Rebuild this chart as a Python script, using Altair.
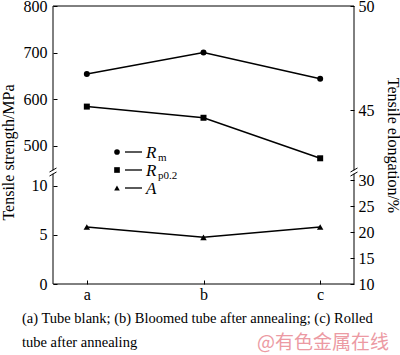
import altair as alt
import pandas as pd

# ---------------- data ----------------
categories = ["a", "b", "c"]
rm_values = [654, 700, 644]          # Rm, MPa
rp_values = [584, 560, 473]          # Rp0.2, MPa
elong_values = [21, 19, 21]          # A, %

left_ticks = [0, 5, 10, 500, 600, 700, 800]
right_ticks = [10, 15, 20, 25, 30, 45, 50]

legend_main = ["R", "R", "A"]
legend_sub = ["m", "p0.2", ""]
legend_shapes = ["circle", "square", "triangle-up"]

caption_lines = ["(a) Tube blank; (b) Bloomed tube after annealing; (c) Rolled",
                 "tube after annealing"]
watermark = "@有色金属在线"

# ---------------- layout ----------------
W, H = 301, 278
TOP = 6
FONT = "Liberation Serif"
one = pd.DataFrame({"k": [0]})

strength_df = pd.DataFrame({
    "category": categories * 2,
    "series": ["Rm"] * 3 + ["Rp0.2"] * 3,
    "value": rm_values + rp_values,
})
elong_df = pd.DataFrame({"category": categories, "series": ["A"] * 3, "value": elong_values})

x_enc = alt.X(
    "category:N",
    sort=categories,
    scale=alt.Scale(type="point", domain=categories, padding=0.29),
    axis=alt.Axis(title=None, offset=-4, domain=False, tickSize=4, tickColor="black",
                  tickWidth=1, labelPadding=2, labelFont=FONT, labelFontSize=16,
                  labelColor="black", labelAngle=0, grid=False),
)

left_scale = alt.Scale(type="linear", domain=[0, 11.4, 450, 800],
                       range=[H, 166, 163, 0], nice=False, zero=False)
right_scale = alt.Scale(type="linear", domain=[10, 31.6, 42.2, 50],
                        range=[H, 166, 163, 0], nice=False, zero=False)

left_axis = alt.Axis(values=left_ticks, title="Tensile strength/MPa", orient="left",
                     offset=-4, domain=False, tickSize=4, tickColor="black", grid=False,
                     labelPadding=6, labelFont=FONT, labelFontSize=16, labelColor="black",
                     titleFont=FONT, titleFontSize=16, titleFontWeight="normal",
                     titleColor="black", titlePadding=7, titleY=146)
right_axis = alt.Axis(values=right_ticks, title="Tensile elongation/%", orient="right",
                      offset=-4, domain=False, tickSize=4, tickColor="black", grid=False,
                      labelPadding=4, labelFont=FONT, labelFontSize=16, labelColor="black",
                      titleFont=FONT, titleFontSize=16, titleFontWeight="normal",
                      titleColor="black", titlePadding=10)

y_left = alt.Y("value:Q", scale=left_scale, axis=left_axis)
y_right = alt.Y("value:Q", scale=right_scale, axis=right_axis)

left_lines = alt.Chart(strength_df).mark_line(color="black", strokeWidth=1.5).encode(
    x=x_enc, y=y_left, detail="series:N")
left_points = alt.Chart(strength_df).mark_point(filled=True, color="black", opacity=1).encode(
    x=x_enc, y=y_left,
    shape=alt.Shape("series:N", scale=alt.Scale(domain=["Rm", "Rp0.2"], range=["circle", "square"]),
                    legend=None),
    size=alt.value(36))
left = alt.layer(left_lines, left_points)

right_lines = alt.Chart(elong_df).mark_line(color="black", strokeWidth=1.5).encode(
    x=x_enc, y=y_right)
right_points = alt.Chart(elong_df).mark_point(filled=True, color="black", opacity=1).encode(
    x=x_enc, y=y_right, shape=alt.value("triangle-up"), size=alt.value(42))
right = alt.layer(right_lines, right_points)

decor = []
# frame
decor.append(alt.Chart(one).mark_rect(fill=None, stroke="black", strokeWidth=1).encode(
    x=alt.value(0), x2=alt.value(W), y=alt.value(0), y2=alt.value(H)))
# axis breaks
for bx in [0, W]:
    decor.append(alt.Chart(one).mark_rect(fill="white", stroke=None).encode(
        x=alt.value(bx - 1.5), x2=alt.value(bx + 1.5), y=alt.value(164.3), y2=alt.value(167.7)))
    for dy in [0, 4]:
        decor.append(alt.Chart(one).mark_rule(color="black", strokeWidth=1).encode(
            x=alt.value(bx - 3.5), x2=alt.value(bx + 3.5),
            y=alt.value(166 + dy), y2=alt.value(162 + dy)))
# legend
for i, (m, s, shp) in enumerate(zip(legend_main, legend_sub, legend_shapes)):
    yy = 146 + 18 * i
    decor.append(alt.Chart(one).mark_point(filled=True, color="black", opacity=1).encode(
        x=alt.value(64), y=alt.value(yy), shape=alt.value(shp), size=alt.value(32)))
    decor.append(alt.Chart(one).mark_rule(color="black", strokeWidth=1.3).encode(
        x=alt.value(72), x2=alt.value(89), y=alt.value(yy)))
    decor.append(alt.Chart(one).mark_text(font=FONT, fontSize=17, fontStyle="italic",
                                          color="black", align="left", baseline="alphabetic").encode(
        x=alt.value(93), y=alt.value(yy + 6), text=alt.value(m)))
    if s:
        decor.append(alt.Chart(one).mark_text(font=FONT, fontSize=11, color="black",
                                              align="left", baseline="alphabetic").encode(
            x=alt.value(105), y=alt.value(yy + 9), text=alt.value(s)))
# caption
for j, line in enumerate(caption_lines):
    decor.append(alt.Chart(one).mark_text(font=FONT, fontSize=14.5, color="black",
                                          align="left", baseline="middle").encode(
        x=alt.value(-31), y=alt.value(313 + 24 * j), text=alt.value(line)))
decor.append(alt.Chart(one).mark_text(font="Noto Sans CJK SC", fontSize=19, color="#ec9aa3",
                                      align="left", baseline="middle").encode(
    x=alt.value(204), y=alt.value(337), text=alt.value(watermark)))

chart = alt.layer(left, right, *decor).resolve_scale(y="independent").properties(
    width=W, height=H,
    padding={"left": 53, "top": TOP, "right": 46, "bottom": 71},
    autosize=alt.AutoSizeParams(type="none"),
    background="white",
).configure_view(stroke=None)

chart.save("out.html", embed_options={"renderer": "svg", "actions": False})
